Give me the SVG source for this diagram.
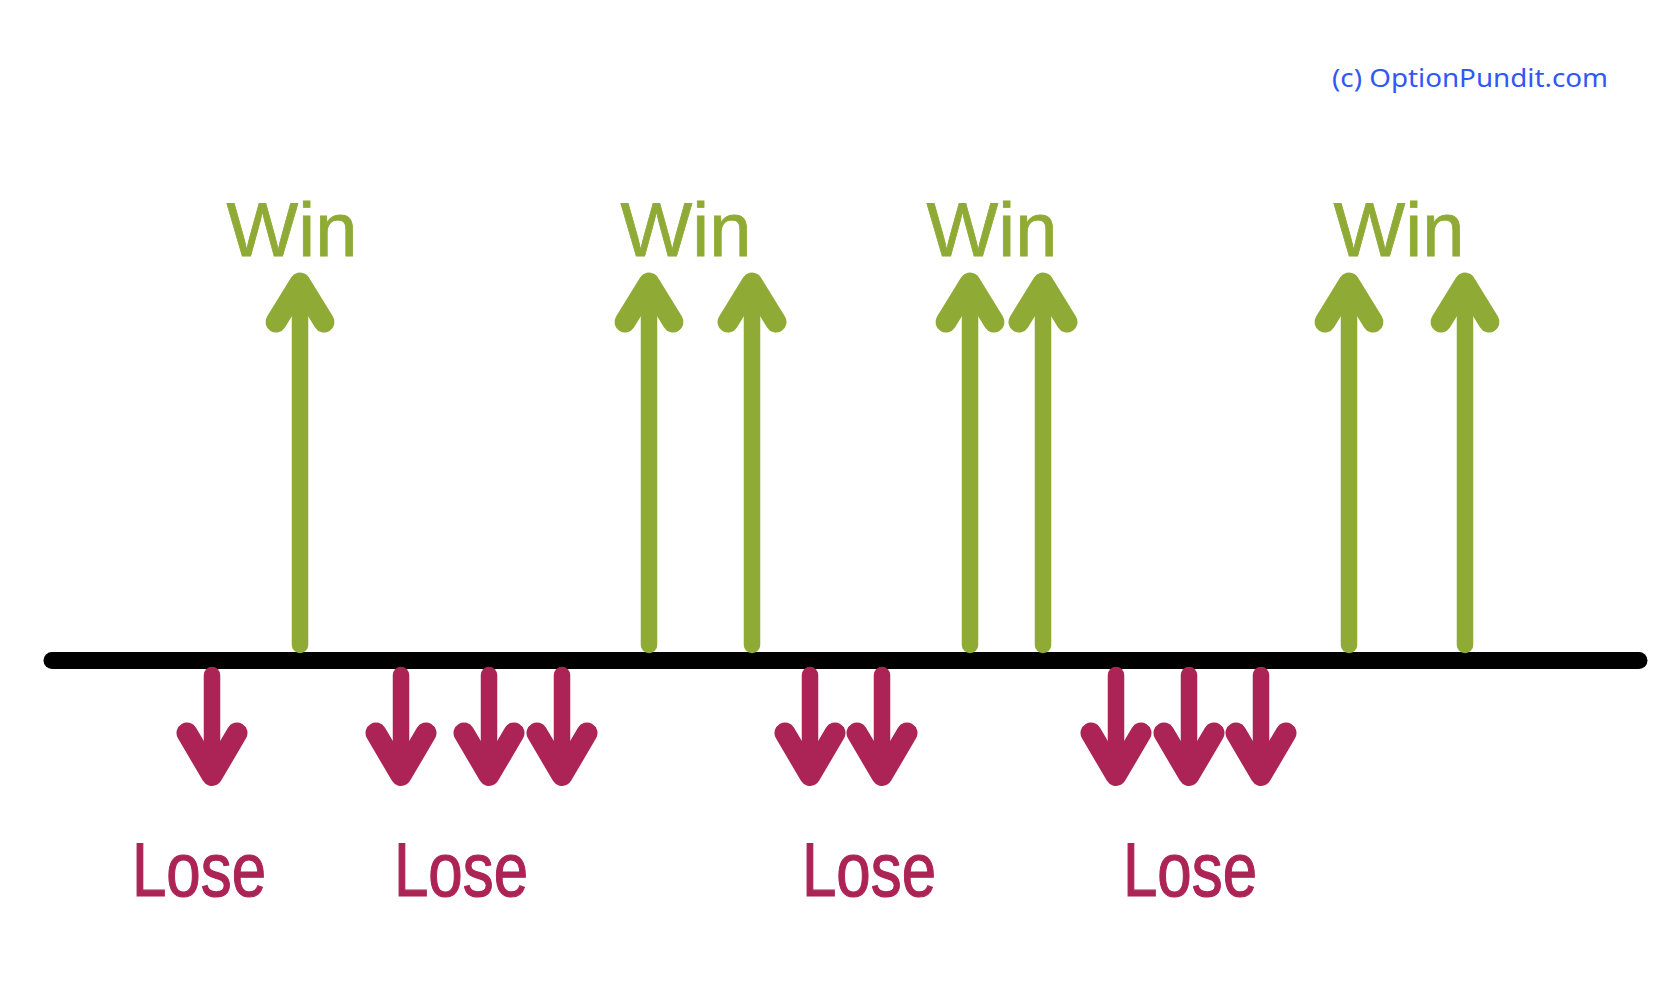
<svg xmlns="http://www.w3.org/2000/svg" xmlns:xlink="http://www.w3.org/1999/xlink" width="1674" height="992" viewBox="0 0 1674 992">
<style>
.win{fill:#8FAB36;stroke:#8FAB36;stroke-width:0.8;font-family:"Liberation Sans",Arial,sans-serif;font-size:76px;text-anchor:middle}
.lose{fill:#AC2455;stroke:#AC2455;stroke-width:1.2;font-family:"Liberation Sans",Arial,sans-serif;font-size:76px;text-anchor:middle}
.up{fill:none;stroke:#8FAB36;stroke-linecap:round;stroke-linejoin:round}
.down{fill:none;stroke:#AC2455;stroke-linecap:round;stroke-linejoin:round}
.shaft{stroke-width:16.5}
.head{stroke-width:21}
.copy{fill:#3158F5;font-family:"Noto Sans","DejaVu Sans",sans-serif;font-size:26px}
</style>
<defs>
<g id="uparrow" class="up"><path class="shaft" d="M0 645V290"/><path class="head" d="M-24 322L0 283L24 322"/></g>
<g id="downarrow" class="down"><path class="shaft" d="M0 675V770"/><path class="head" d="M-25 733L0 775.5L25 733"/></g>
</defs>
<rect width="1674" height="992" fill="#FFFFFF"/>
<text class="copy" x="1332" y="87" textLength="276" lengthAdjust="spacingAndGlyphs">(c) OptionPundit.com</text>
<g id="connectors">
<line x1="52" y1="660.5" x2="1639" y2="660.5" stroke="#000" stroke-width="17" stroke-linecap="round"/>
</g>
<g id="win1"><use href="#uparrow" x="300"/><text class="win" x="292" y="256">Win</text></g>
<g id="win2"><use href="#uparrow" x="649"/><use href="#uparrow" x="752"/><text class="win" x="686" y="256">Win</text></g>
<g id="win3"><use href="#uparrow" x="970"/><use href="#uparrow" x="1043"/><text class="win" x="992" y="256">Win</text></g>
<g id="win4"><use href="#uparrow" x="1349"/><use href="#uparrow" x="1465"/><text class="win" x="1399" y="256">Win</text></g>
<g id="lose1"><use href="#downarrow" x="212"/><text class="lose" x="199" y="896" textLength="134" lengthAdjust="spacingAndGlyphs">Lose</text></g>
<g id="lose2"><use href="#downarrow" x="401"/><use href="#downarrow" x="489"/><use href="#downarrow" x="562"/><text class="lose" x="461" y="896" textLength="134" lengthAdjust="spacingAndGlyphs">Lose</text></g>
<g id="lose3"><use href="#downarrow" x="810"/><use href="#downarrow" x="882"/><text class="lose" x="869" y="896" textLength="134" lengthAdjust="spacingAndGlyphs">Lose</text></g>
<g id="lose4"><use href="#downarrow" x="1116"/><use href="#downarrow" x="1189"/><use href="#downarrow" x="1261"/><text class="lose" x="1190" y="896" textLength="134" lengthAdjust="spacingAndGlyphs">Lose</text></g>
</svg>
